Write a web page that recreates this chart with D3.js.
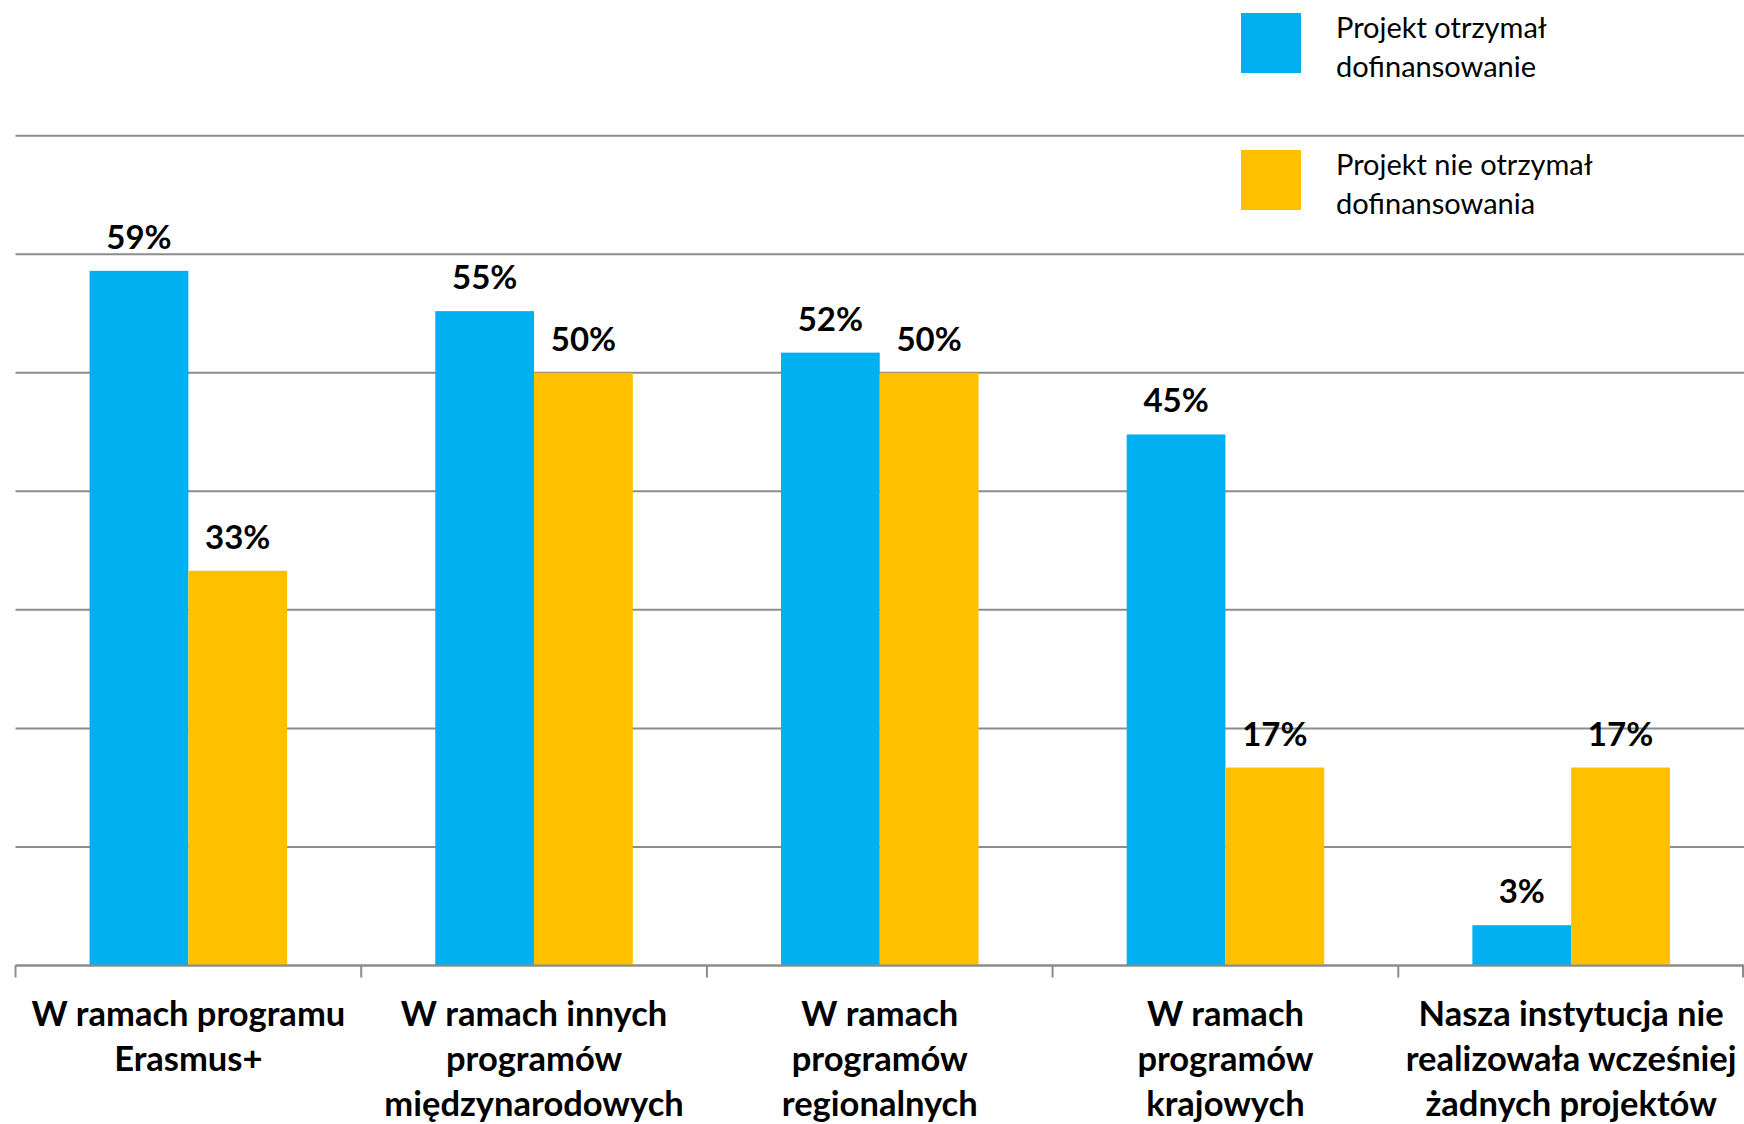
<!DOCTYPE html>
<html>
<head>
<meta charset="utf-8">
<script src="https://cdn.jsdelivr.net/npm/d3@7"></script>
<style>
  html, body { margin: 0; padding: 0; background: #fff; }
  svg { display: block; }
</style>
</head>
<body>
<svg id="chart" width="1744" height="1124"></svg>
<script>
// ---- data ----
const categories = [
  ["W ramach programu", "Erasmus+"],
  ["W ramach innych", "programów", "międzynarodowych"],
  ["W ramach", "programów", "regionalnych"],
  ["W ramach", "programów", "krajowych"],
  ["Nasza instytucja nie", "realizowała wcześniej", "żadnych projektów"]
];
const seriesNames = [
  ["Projekt otrzymał", "dofinansowanie"],
  ["Projekt nie otrzymał", "dofinansowania"]
];
const seriesReceived = [58.6, 55.2, 51.7, 44.8, 3.4];
const seriesNotReceived = [33.3, 50.0, 50.0, 16.7, 16.7];
const yTicks = [0, 10, 20, 30, 40, 50, 60, 70];
const colors = ["#00B0F0", "#FFC000"];

const seriesValues = [seriesReceived, seriesNotReceived];
const catIdx = categories.map((d, i) => i);

const svg = d3.select("#chart");
const left = 15.5, right = 1744, baseY = 965.5, topY = 135.7;

const x0 = d3.scaleBand().domain(catIdx).range([left, right]).paddingInner(0).paddingOuter(0);
const groupW = x0.bandwidth() * 2 / 3.5;
const x1 = d3.scaleBand().domain([0, 1])
  .range([(x0.bandwidth() - groupW) / 2, (x0.bandwidth() + groupW) / 2]).padding(0);
const y = d3.scaleLinear().domain([0, 70]).range([baseY, topY]);

// gridlines
svg.append("g").selectAll("line").data(yTicks).join("line")
  .attr("x1", left).attr("x2", right)
  .attr("y1", d => y(d)).attr("y2", d => y(d))
  .attr("stroke", "#8c8c8c").attr("stroke-width", 2);

// bars
const groups = svg.append("g").selectAll("g").data(catIdx).join("g")
  .attr("transform", d => `translate(${x0(d)},0)`);

groups.selectAll("rect").data(ci => seriesValues.map((s, si) => ({si, v: s[ci]}))).join("rect")
  .attr("x", d => x1(d.si))
  .attr("width", x1.bandwidth())
  .attr("y", d => y(d.v))
  .attr("height", d => y(0) - y(d.v))
  .attr("fill", d => colors[d.si]);

groups.selectAll("text.val").data(ci => seriesValues.map((s, si) => ({si, v: s[ci]}))).join("text")
  .attr("class", "val")
  .attr("x", d => x1(d.si) + x1.bandwidth() / 2)
  .attr("y", d => y(d.v) - 22)
  .attr("text-anchor", "middle")
  .attr("font-family", "Lato, 'Open Sans', sans-serif")
  .attr("font-weight", "bold")
  .attr("font-size", 33)
  .attr("fill", "#000")
  .text(d => Math.round(d.v) + "%");

// x axis baseline + ticks
svg.append("line").attr("x1", left).attr("x2", right).attr("y1", baseY).attr("y2", baseY)
  .attr("stroke", "#8c8c8c").attr("stroke-width", 2);
const tickPos = catIdx.map(i => x0(i)).concat([right - 1]);
svg.append("g").selectAll("line").data(tickPos).join("line")
  .attr("x1", d => d).attr("x2", d => d)
  .attr("y1", baseY).attr("y2", baseY + 12)
  .attr("stroke", "#8c8c8c").attr("stroke-width", 2);

// category labels
const lab = svg.append("g").selectAll("text").data(catIdx).join("text")
  .attr("text-anchor", "middle")
  .attr("font-family", "Lato, 'Open Sans', sans-serif")
  .attr("font-weight", "bold")
  .attr("font-size", 34.5)
  .attr("fill", "#000");
lab.selectAll("tspan").data(i => categories[i].map(t => ({t, i}))).join("tspan")
  .attr("x", d => x0(d.i) + x0.bandwidth() / 2)
  .attr("y", (d, k) => 1026 + k * 45)
  .text(d => d.t);

// legend
const legendY = [13, 150];
const lg = svg.append("g").selectAll("g").data(seriesNames).join("g")
  .attr("transform", (d, i) => `translate(1241,${legendY[i]})`);
lg.append("rect").attr("width", 60).attr("height", 60).attr("fill", (d, i) => colors[i]);
lg.append("text")
  .attr("font-family", "Lato, 'Open Sans', sans-serif")
  .attr("font-size", 29)
  .attr("fill", "#000")
  .selectAll("tspan").data(d => d).join("tspan")
  .attr("x", 95).attr("y", (d, k) => 25 + k * 39)
  .text(d => d);
</script>
</body>
</html>
